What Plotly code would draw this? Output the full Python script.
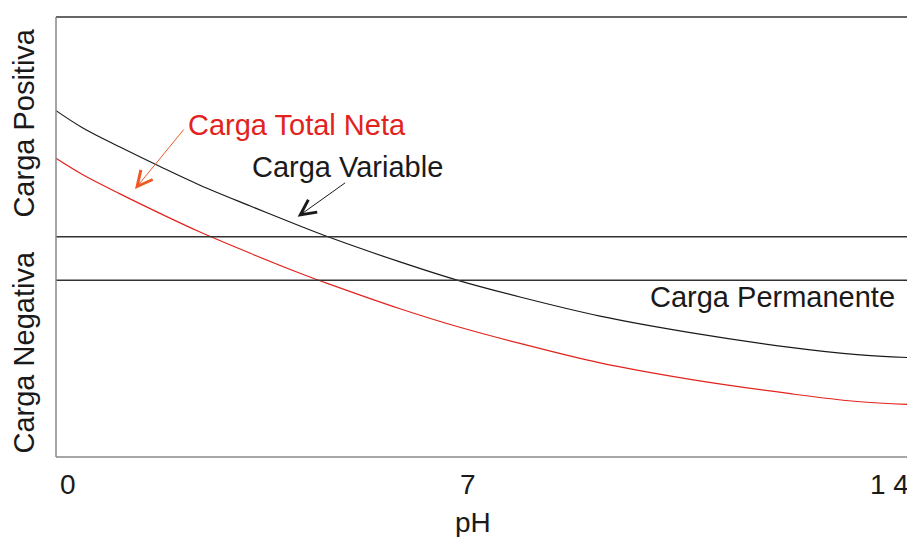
import plotly.graph_objects as go

# pH values where the curves were read
ph_points = [-0.21, 0.26, 0.91, 1.61, 2.31, 3.19, 4.06, 4.55, 5.81, 6.81, 7.91, 9.31, 10.89, 12.64, 13.81, 14.77]
# Variable charge (arbitrary units, 0 = neutral line)
carga_variable = [2.91, 2.51, 2.07, 1.62, 1.19, 0.71, 0.25, 0.00, -0.58, -1.00, -1.39, -1.83, -2.21, -2.55, -2.72, -2.79]
# Net total charge (variable + permanent)
carga_total = [1.81, 1.43, 0.99, 0.54, 0.11, -0.38, -0.84, -1.08, -1.66, -2.07, -2.46, -2.91, -3.29, -3.62, -3.80, -3.87]
carga_cero = 0.0
carga_permanente = -1.0

tick_ph = [0, 7, 14]
tick_text = ["0", "7", "1 4"]

FONT = "Arial, Liberation Sans, sans-serif"
RED = "#e2231d"
INK = "#1a1a1a"

fig = go.Figure()
fig.add_trace(go.Scatter(x=ph_points, y=carga_variable, mode="lines",
                         line=dict(color=INK, width=1.2, shape="spline", smoothing=1.0),
                         showlegend=False, hoverinfo="skip"))
fig.add_trace(go.Scatter(x=ph_points, y=carga_total, mode="lines",
                         line=dict(color=RED, width=1.2, shape="spline", smoothing=1.0),
                         showlegend=False, hoverinfo="skip"))

shapes = []
for yv in (carga_cero, carga_permanente):
    shapes.append(dict(type="line", xref="x domain", yref="y", x0=0, x1=1, y0=yv, y1=yv,
                       line=dict(color="#333333", width=1.5)))
# frame
shapes.append(dict(type="line", xref="paper", yref="paper", x0=0, x1=1, y0=1, y1=1, line=dict(color="#333333", width=1.5)))
shapes.append(dict(type="line", xref="paper", yref="paper", x0=1, x1=1, y0=0, y1=1, line=dict(color="#333333", width=1.5)))
shapes.append(dict(type="line", xref="paper", yref="paper", x0=0, x1=1, y0=0, y1=0, line=dict(color="#888888", width=1.5)))
shapes.append(dict(type="line", xref="paper", yref="paper", x0=0, x1=0, y0=0, y1=1, line=dict(color="#888888", width=1.5)))

annotations = [
    dict(text="Carga Total Neta", x=0.281, y=0.7545, xref="paper", yref="paper", showarrow=False,
         font=dict(family=FONT, size=29, color=RED), xanchor="center", yanchor="middle"),
    dict(text="Carga Variable", x=0.3405, y=0.66, xref="paper", yref="paper", showarrow=False,
         font=dict(family=FONT, size=29, color=INK), xanchor="center", yanchor="middle"),
    dict(text="Carga Permanente", x=0.837, y=0.3643, xref="paper", yref="paper", showarrow=False,
         font=dict(family=FONT, size=29, color=INK), xanchor="center", yanchor="middle"),
    dict(text="Carga Positiva", x=-0.0374, y=0.760, xref="paper", yref="paper", showarrow=False,
         textangle=-90, font=dict(family=FONT, size=29, color=INK), xanchor="center", yanchor="middle"),
    dict(text="Carga Negativa", x=-0.0374, y=0.2375, xref="paper", yref="paper", showarrow=False,
         textangle=-90, font=dict(family=FONT, size=29, color=INK), xanchor="center", yanchor="middle"),
    dict(text="pH", x=0.487, y=-0.148, xref="paper", yref="paper", showarrow=False,
         font=dict(family=FONT, size=28, color=INK), xanchor="center", yanchor="middle"),
    # arrows
    dict(text="", x=0.0923, y=0.609, xref="paper", yref="paper", showarrow=True,
         ax=50, ay=-61, arrowhead=5, arrowsize=3, arrowwidth=1, arrowcolor="#ef5a24", standoff=0),
    dict(text="", x=0.2823, y=0.546, xref="paper", yref="paper", showarrow=True,
         ax=49, ay=-35, arrowhead=5, arrowsize=3, arrowwidth=1, arrowcolor=INK, standoff=0),
]
for v, t in zip(tick_ph, tick_text):
    annotations.append(dict(text=t, x=v, y=-0.063, xref="x", yref="paper", showarrow=False,
                            font=dict(family=FONT, size=28, color=INK),
                            xanchor="left" if v == tick_ph[-1] else "center", yanchor="middle"))

fig.update_layout(
    width=915, height=537,
    margin=dict(l=48, r=11, t=9, b=88),
    paper_bgcolor="white", plot_bgcolor="white",
    xaxis=dict(range=[-0.21, 14.77], showgrid=False, zeroline=False, showticklabels=False, ticks="", showline=False),
    yaxis=dict(range=[-5.08, 5.07], showgrid=False, zeroline=False, showticklabels=False, ticks="", showline=False),
    shapes=shapes, annotations=annotations, showlegend=False,
)
fig.write_html("out.html")
